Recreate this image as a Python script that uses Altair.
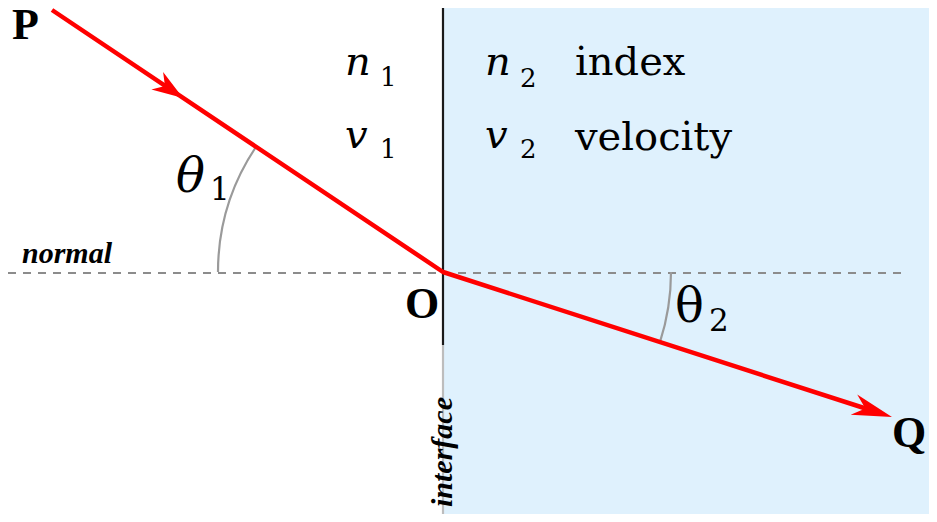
import numpy as np
import pandas as pd
import altair as alt

# diagram coordinates (pixel-like units, y grows downward)
x_lo, x_hi = 8, 929
y_lo, y_hi = 8, 514

# second medium (light blue region right of the interface)
medium_x = [444, 929]
medium_y = [8, 514]

# interface line: dark upper part, light lower part
iface_x = [443, 443]
iface_y0 = [8, 345]
iface_y1 = [345, 514]
iface_part = ['upper', 'lower']

# normal (dashed)
normal_x = [8, 904]
normal_y = 273

# light ray P -> O -> Q
ray_x = [52, 443, 878]
ray_y = [10, 272, 412.5]

# arrow tips and their direction (degrees, clockwise from +x)
arrow_x = [183, 892]
arrow_y = [98, 417]
arrow_angle = [33.8, 17.9]

# angle arcs around O (degrees, clockwise from 12 o'clock)
arc_r = [225, 228]
arc_start = [270, 90]
arc_end = [303.8, 107.9]

# text labels
point_labels = ['P', 'O', 'Q']
point_x = [12, 405, 892]
point_y = [39, 318, 447]

var_labels = ['n', 'v', 'n', 'v']
var_x = [345, 345, 485, 485]
var_y = [75, 148, 75, 148]

sub_labels = ['1', '1', '2', '2']
sub_x = [380, 380, 520, 520]
sub_y = [86, 158, 87, 158]

word_labels = ['index', 'velocity']
word_x = [575, 575]
word_y = [75, 150]

theta_sub = ['1', '2']
theta_sub_x = [210, 709]
theta_sub_y = [200, 331]

xs = alt.Scale(domain=[x_lo, x_hi])
ys = alt.Scale(domain=[y_lo, y_hi], reverse=True)


def X(f):
    return alt.X(f, type='quantitative', scale=xs, axis=None)


def Y(f):
    return alt.Y(f, type='quantitative', scale=ys, axis=None)


FONT_B = 'Liberation Serif, Times New Roman, serif'
FONT_R = 'DejaVu Serif, serif'

medium_df = pd.DataFrame({'x': [medium_x[0]], 'x2': [medium_x[1]],
                          'y': [medium_y[0]], 'y2': [medium_y[1]]})
medium = alt.Chart(medium_df).mark_rect(color='#dff1fd').encode(
    x=X('x'), x2='x2', y=Y('y'), y2='y2')

normal_df = pd.DataFrame({'x': [normal_x[0]], 'x2': [normal_x[1]], 'y': [normal_y]})
normal = alt.Chart(normal_df).mark_rule(
    color='#8c8c8c', strokeWidth=2.2, strokeDash=[8, 7]
).encode(x=X('x'), x2='x2', y=Y('y'))

iface_df = pd.DataFrame({'x': iface_x, 'y': iface_y0, 'y2': iface_y1, 'part': iface_part})
iface = alt.Chart(iface_df).mark_rule(strokeWidth=2.2).encode(
    x=X('x'), y=Y('y'), y2='y2',
    color=alt.Color('part:N', scale=alt.Scale(domain=['upper', 'lower'],
                                              range=['#1a1a1a', '#bdbdbd']), legend=None))

arc_df = pd.DataFrame({'cx': [443, 443], 'cy': [272, 272], 'r': arc_r,
                       't0': np.radians(arc_start), 't1': np.radians(arc_end)})
arcs = alt.Chart(arc_df).mark_arc(filled=False, color='#9a9a9a', strokeWidth=2.2).encode(
    x=X('cx'), y=Y('cy'),
    theta=alt.Theta('t0:Q', scale=None, stack=False), theta2=alt.Theta2('t1:Q'),
    radius=alt.Radius('r:Q', scale=None), radius2=alt.Radius2('r:Q'))

ray_df = pd.DataFrame({'x': ray_x, 'y': ray_y, 'o': [0, 1, 2]})
ray = alt.Chart(ray_df).mark_line(color='#ff0000', strokeWidth=4.5, strokeJoin='round').encode(
    x=X('x'), y=Y('y'), order='o:Q')

arrow_df = pd.DataFrame({'x': arrow_x, 'y': arrow_y, 'ang': arrow_angle})
head_in = alt.Chart(arrow_df.iloc[[0]]).mark_point(
    shape='M0,0L-2,-0.68L-1.4,0L-2,0.68Z', size=961, filled=True, color='#ff0000', opacity=1
).encode(x=X('x'), y=Y('y'), angle=alt.Angle('ang:Q', scale=None))
head_out = alt.Chart(arrow_df.iloc[[1]]).mark_point(
    shape='M0,0L-2,-0.53L-1.4,0L-2,0.53Z', size=1600, filled=True, color='#ff0000', opacity=1
).encode(x=X('x'), y=Y('y'), angle=alt.Angle('ang:Q', scale=None))


def text_layer(labels, xv, yv, **kw):
    df = pd.DataFrame({'t': labels, 'x': xv, 'y': yv})
    opts = dict(align='left', baseline='alphabetic', font=FONT_R, color='black')
    opts.update(kw)
    return alt.Chart(df).mark_text(**opts).encode(x=X('x'), y=Y('y'), text='t:N')


points = text_layer(point_labels, point_x, point_y, fontSize=44, fontWeight='bold', font=FONT_B)
variables = text_layer(var_labels, var_x, var_y, fontSize=40, fontStyle='italic')
subs = text_layer(sub_labels, sub_x, sub_y, fontSize=26)
words = text_layer(word_labels, word_x, word_y, fontSize=40)
theta1 = text_layer(['θ'], [176], [192], fontSize=48, fontStyle='italic')
theta2 = text_layer(['θ'], [675], [322], fontSize=48)
theta_subs = text_layer(theta_sub, theta_sub_x, theta_sub_y, fontSize=31)
normal_lbl = text_layer(['normal'], [22], [263], fontSize=30, font=FONT_B,
                        fontStyle='italic', fontWeight='bold')
iface_lbl = text_layer(['interface'], [443], [452], fontSize=30, fontStyle='italic', font=FONT_B,
                       fontWeight='bold', angle=270, align='center', baseline='middle')

chart = alt.layer(
    medium, normal, iface, arcs, ray, head_in, head_out,
    points, variables, subs, words, theta1, theta2, theta_subs, normal_lbl, iface_lbl
).properties(
    width=x_hi - x_lo, height=y_hi - y_lo, padding=0, autosize='none'
).configure_view(strokeWidth=0)

chart.save("out.html", embed_options={"renderer": "svg", "actions": False})
